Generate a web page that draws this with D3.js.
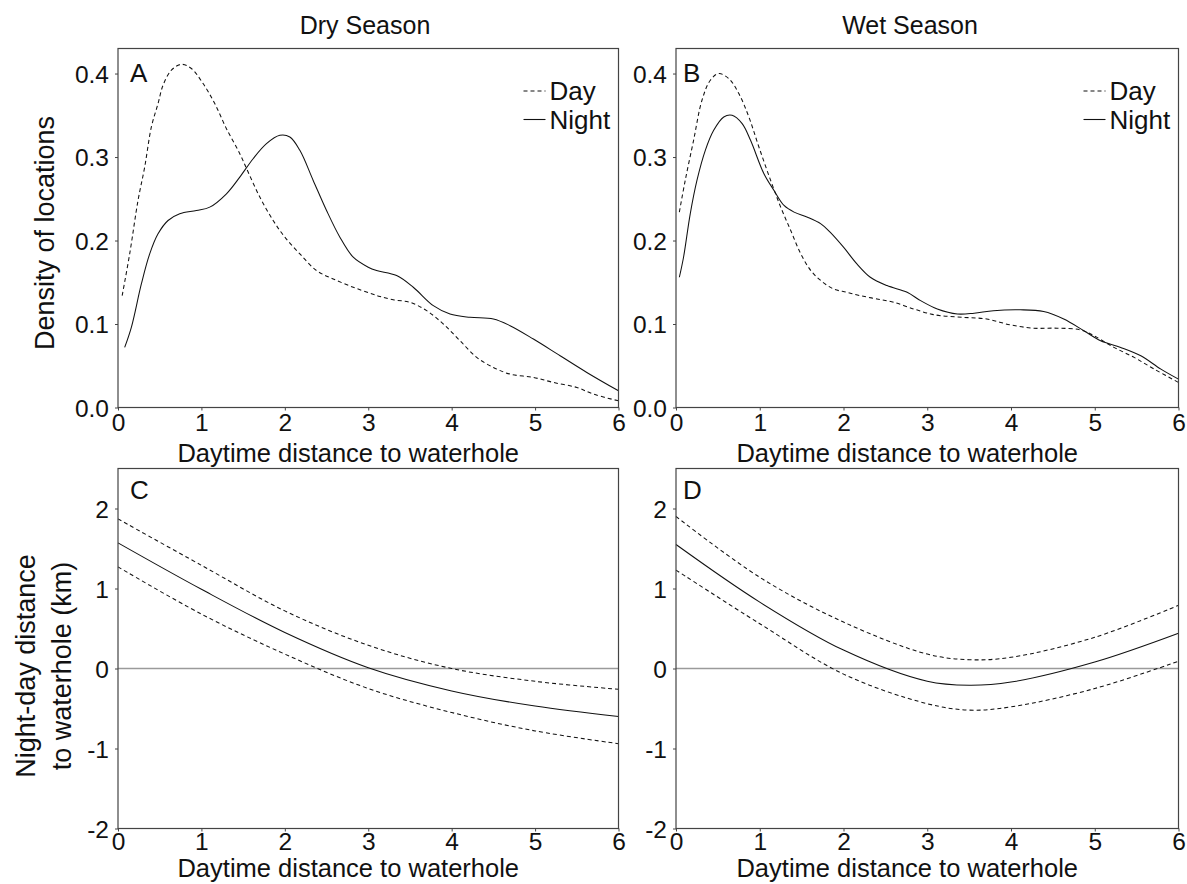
<!DOCTYPE html>
<html>
<head>
<meta charset="utf-8">
<script src="https://cdn.jsdelivr.net/npm/d3@7"></script>
<style>
  html, body { margin: 0; padding: 0; background: #fff; }
  svg { display: block; }
  text { font-family: "Liberation Sans", Arial, sans-serif; fill: #111; }
</style>
</head>
<body>
<svg id="chart" width="1187" height="884"></svg>
<script>
// ---------- Data ----------
const seasonTitles = ["Dry Season", "Wet Season"];
const panelLetters = ["A", "B", "C", "D"];
const xTickValues = [0, 1, 2, 3, 4, 5, 6];
const densityTicks = [0.0, 0.1, 0.2, 0.3, 0.4];
const diffTicks = [-2, -1, 0, 1, 2];
const legendLabels = ["Day", "Night"];
const xLabel = "Daytime distance to waterhole";
const densityYLabel = "Density of locations";
const diffYLabel = ["Night-day distance", "to waterhole (km)"];

// Panel A (dry season densities)
const dryDayX = [0.05,0.14,0.24,0.32,0.40,0.48,0.54,0.64,0.76,0.88,1.02,1.16,1.30,1.46,1.56,1.70,1.86,2.00,2.18,2.38,2.58,2.82,3.02,3.14,3.30,3.50,3.70,3.90,4.10,4.30,4.50,4.70,4.98,5.22,5.50,5.70,6.00];
const dryDayY = [0.134,0.184,0.248,0.288,0.336,0.364,0.386,0.404,0.411,0.406,0.388,0.364,0.334,0.304,0.282,0.252,0.224,0.204,0.184,0.164,0.154,0.144,0.137,0.133,0.129,0.126,0.116,0.100,0.080,0.060,0.048,0.040,0.036,0.030,0.024,0.016,0.008];
const dryNightX = [0.08,0.16,0.28,0.38,0.48,0.60,0.74,0.94,1.10,1.30,1.46,1.62,1.78,1.94,2.06,2.18,2.34,2.50,2.66,2.82,3.00,3.10,3.34,3.54,3.78,3.98,4.22,4.50,4.70,4.98,5.30,5.62,6.00];
const dryNightY = [0.072,0.096,0.148,0.184,0.208,0.224,0.232,0.236,0.240,0.256,0.276,0.298,0.316,0.326,0.324,0.308,0.272,0.236,0.204,0.180,0.168,0.164,0.158,0.144,0.122,0.112,0.108,0.106,0.098,0.082,0.062,0.042,0.020];

// Panel B (wet season densities)
const wetDayX = [0.04,0.11,0.21,0.31,0.41,0.51,0.63,0.75,0.87,0.99,1.13,1.25,1.37,1.49,1.61,1.73,1.88,2.04,2.20,2.40,2.60,2.84,3.04,3.16,3.43,3.71,3.99,4.27,4.55,4.83,4.99,5.23,5.47,5.71,6.00];
const wetDayY = [0.234,0.272,0.320,0.368,0.392,0.400,0.394,0.376,0.348,0.312,0.272,0.240,0.212,0.184,0.164,0.152,0.142,0.138,0.134,0.130,0.126,0.118,0.112,0.110,0.108,0.106,0.099,0.095,0.095,0.093,0.086,0.072,0.060,0.046,0.030];
const wetNightX = [0.04,0.09,0.17,0.25,0.35,0.45,0.57,0.67,0.79,0.89,1.05,1.17,1.29,1.41,1.57,1.73,1.84,2.00,2.16,2.32,2.52,2.76,2.92,3.12,3.36,3.56,3.79,4.11,4.39,4.63,4.87,5.07,5.31,5.55,5.79,6.00];
const wetNightY = [0.156,0.180,0.232,0.272,0.308,0.332,0.348,0.350,0.340,0.320,0.280,0.260,0.242,0.234,0.228,0.220,0.210,0.192,0.172,0.156,0.146,0.138,0.128,0.118,0.112,0.113,0.116,0.117,0.115,0.106,0.092,0.080,0.072,0.062,0.046,0.034];

// Panel C (dry season night-day difference, fit and bounds)
const dryFitX = [0, 1, 2, 3, 4, 5, 6];
const dryFit = [1.57, 0.99, 0.45, 0.01, -0.28, -0.47, -0.60];
const dryUpper = [1.87, 1.29, 0.72, 0.29, 0.00, -0.16, -0.26];
const dryLower = [1.27, 0.68, 0.18, -0.25, -0.55, -0.78, -0.94];

// Panel D (wet season night-day difference, fit and bounds)
const wetFitX = [0, 1, 2, 3, 3.5, 4, 5, 6];
const wetFit = [1.55, 0.83, 0.23, -0.16, -0.21, -0.17, 0.08, 0.44];
const wetUpper = [1.90, 1.14, 0.58, 0.18, 0.11, 0.14, 0.39, 0.79];
const wetLower = [1.23, 0.56, -0.07, -0.44, -0.52, -0.48, -0.25, 0.09];

// ---------- Layout ----------
const svg = d3.select("#chart");
const cols = [{left: 118, right: 618.5}, {left: 676, right: 1178.5}];
const rows = [{top: 48.5, bottom: 407.5}, {top: 468.5, bottom: 828.5}];
const dashPattern = "4,3";
const lineColor = "#111";
const frameColor = "#444";

const zip = (xs, ys) => xs.map((x, i) => [x, ys[i]]);
const intFmt = d => String(d);            // plain hyphen-minus like the reference
const densFmt = d => d.toFixed(1);

const panels = [
  {col: 0, row: 0, yDomain: [0, 0.43], yTicks: densityTicks, fmt: densFmt,
   series: [{d: zip(dryDayX, dryDayY), dash: true}, {d: zip(dryNightX, dryNightY), dash: false}], legend: true, zero: false},
  {col: 1, row: 0, yDomain: [0, 0.43], yTicks: densityTicks, fmt: densFmt,
   series: [{d: zip(wetDayX, wetDayY), dash: true}, {d: zip(wetNightX, wetNightY), dash: false}], legend: true, zero: false},
  {col: 0, row: 1, yDomain: [-2, 2.5], yTicks: diffTicks, fmt: intFmt,
   series: [{d: zip(dryFitX, dryUpper), dash: true}, {d: zip(dryFitX, dryLower), dash: true}, {d: zip(dryFitX, dryFit), dash: false}], legend: false, zero: true},
  {col: 1, row: 1, yDomain: [-2, 2.5], yTicks: diffTicks, fmt: intFmt,
   series: [{d: zip(wetFitX, wetUpper), dash: true}, {d: zip(wetFitX, wetLower), dash: true}, {d: zip(wetFitX, wetFit), dash: false}], legend: false, zero: true}
];

panels.forEach((p, i) => {
  const c = cols[p.col], r = rows[p.row];
  const x = d3.scaleLinear().domain([0, 6]).range([c.left, c.right]);
  const y = d3.scaleLinear().domain(p.yDomain).range([r.bottom, r.top]);
  const g = svg.append("g");

  if (p.zero) {
    g.append("line")
      .attr("x1", c.left).attr("x2", c.right)
      .attr("y1", y(0)).attr("y2", y(0))
      .attr("stroke", "#9a9a9a").attr("stroke-width", 1.3);
  }

  const line = d3.line().x(d => x(d[0])).y(d => y(d[1])).curve(d3.curveCatmullRom.alpha(0.5));
  p.series.forEach(s => {
    g.append("path")
      .attr("d", line(s.d))
      .attr("fill", "none")
      .attr("stroke", lineColor)
      .attr("stroke-width", 1.05)
      .attr("stroke-dasharray", s.dash ? dashPattern : null);
  });

  g.append("rect")
    .attr("x", c.left).attr("y", r.top)
    .attr("width", c.right - c.left).attr("height", r.bottom - r.top)
    .attr("fill", "none").attr("stroke", frameColor).attr("stroke-width", 1.2);

  const xa = g.append("g").attr("transform", `translate(0,${r.bottom})`)
    .call(d3.axisBottom(x).tickValues(xTickValues).tickFormat(intFmt).tickSize(3).tickPadding(6));
  const ya = g.append("g").attr("transform", `translate(${c.left},0)`)
    .call(d3.axisLeft(y).tickValues(p.yTicks).tickFormat(p.fmt).tickSize(3).tickPadding(6));
  [xa, ya].forEach(a => {
    a.select(".domain").remove();
    a.selectAll(".tick line").attr("stroke", frameColor);
    a.selectAll(".tick text").attr("font-size", 24.5).attr("font-family", "Liberation Sans, Arial, sans-serif").attr("fill", "#111");
  });
  xa.selectAll(".tick text").attr("dy", "0.71em").attr("y", p.row === 0 ? 6 : 4);
  ya.selectAll(".tick text").attr("dy", "0.36em");

  g.append("text")
    .attr("x", (c.left + c.right) / 2 - 20)
    .attr("y", r.bottom + (p.row === 0 ? 54 : 48.5))
    .attr("text-anchor", "middle")
    .attr("font-size", 25.5)
    .text(xLabel);

  g.append("text")
    .attr("x", c.left + (p.col === 0 ? 12 : 7))
    .attr("y", r.top + (p.row === 0 ? 33 : 30.5))
    .attr("font-size", 26)
    .text(panelLetters[i]);

  if (p.legend) {
    const lx = c.right - 95;
    legendLabels.forEach((lab, k) => {
      const by = 100 + k * 28.5;
      g.append("line")
        .attr("x1", lx).attr("x2", lx + 22)
        .attr("y1", by - 9).attr("y2", by - 9)
        .attr("stroke", lineColor).attr("stroke-width", 1.1)
        .attr("stroke-dasharray", k === 0 ? dashPattern : null);
      g.append("text")
        .attr("x", lx + 26).attr("y", by)
        .attr("font-size", 26)
        .text(lab);
    });
  }
});

svg.append("text").attr("x", 365).attr("y", 34).attr("text-anchor", "middle").attr("font-size", 25).text(seasonTitles[0]);
svg.append("text").attr("x", 910).attr("y", 34).attr("text-anchor", "middle").attr("font-size", 25).text(seasonTitles[1]);

svg.append("text")
  .attr("transform", "translate(53.5,233) rotate(-90)")
  .attr("text-anchor", "middle").attr("font-size", 27)
  .text(densityYLabel);
diffYLabel.forEach((t, k) => {
  svg.append("text")
    .attr("transform", `translate(${35 + k * 36},666) rotate(-90)`)
    .attr("text-anchor", "middle").attr("font-size", 27)
    .text(t);
});
</script>
</body>
</html>
